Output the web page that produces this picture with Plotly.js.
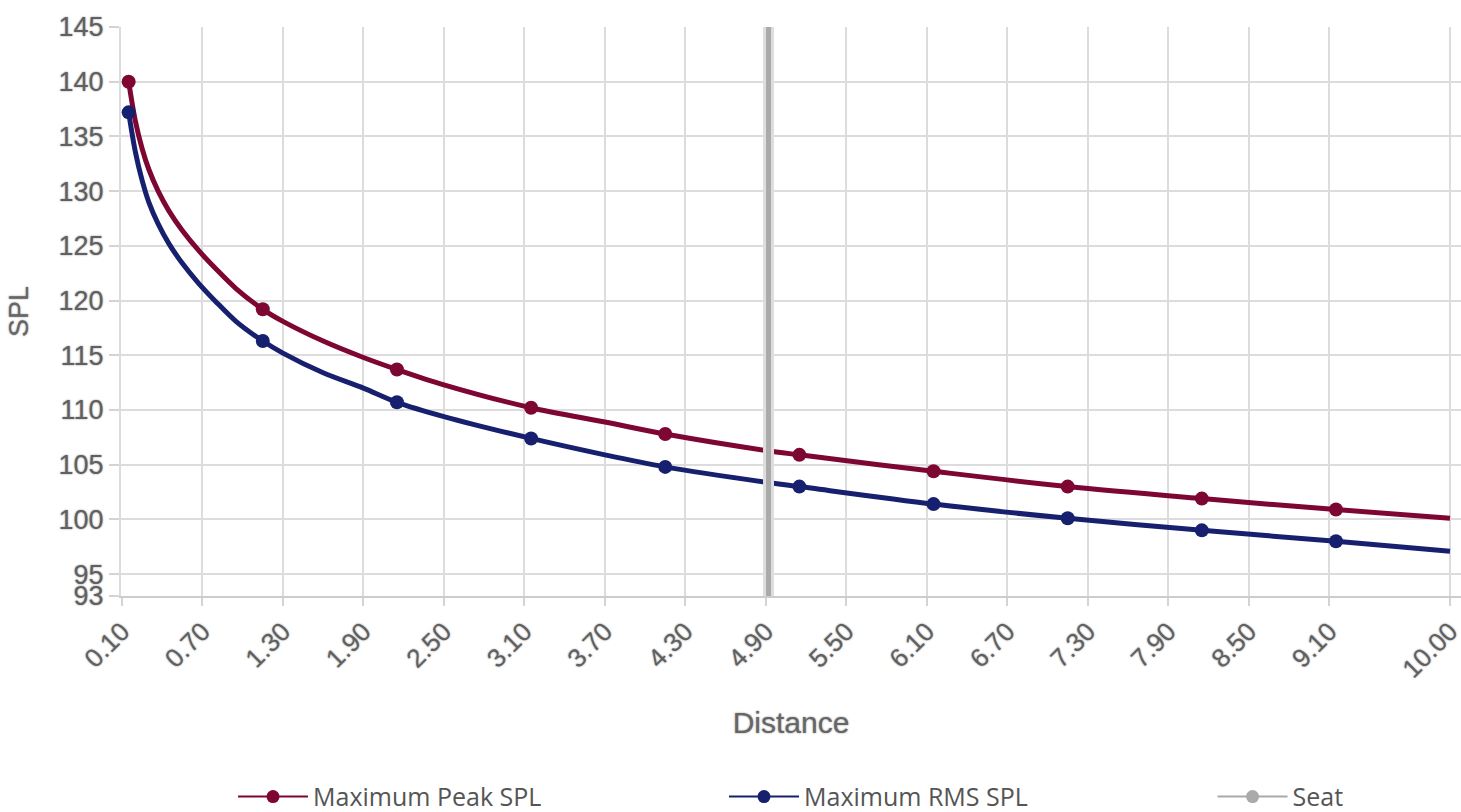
<!DOCTYPE html>
<html>
<head>
<meta charset="utf-8">
<script src="https://cdn.plot.ly/plotly-3.0.1.min.js"></script>
<style>html,body{margin:0;padding:0;background:#fff;}#chart{width:1461px;height:812px;}</style>
</head>
<body>
<div id="chart"></div>
<script>
// Data
const distance = [0.15, 0.20, 0.25, 0.30, 0.37, 0.45, 0.55, 0.67, 0.80, 0.95, 1.15, 1.30, 1.60, 1.90, 2.15, 2.50, 3.15, 3.70, 4.15, 4.90, 5.15, 6.15, 7.15, 8.15, 9.15, 10.0];
const peakSPL = [140.0, 136.4, 133.9, 132.0, 130.0, 128.2, 126.4, 124.6, 122.9, 121.1, 119.2, 118.1, 116.3, 114.8, 113.7, 112.3, 110.2, 108.9, 107.8, 106.3, 105.9, 104.4, 103.0, 101.9, 100.9, 100.1];
const rmsSPL  = [137.2, 133.6, 131.0, 129.0, 127.0, 125.2, 123.4, 121.6, 119.9, 118.1, 116.3, 115.2, 113.4, 112.0, 110.7, 109.4, 107.4, 105.9, 104.8, 103.4, 103.0, 101.4, 100.1, 99.0, 98.0, 97.1];
const markerDistances = [0.15, 1.15, 2.15, 3.15, 4.15, 5.15, 6.15, 7.15, 8.15, 9.15];
const seatDistance = 4.92;
const seatRange = [93, 145];
const xTickVals = [0.1, 0.7, 1.3, 1.9, 2.5, 3.1, 3.7, 4.3, 4.9, 5.5, 6.1, 6.7, 7.3, 7.9, 8.5, 9.1, 10.0];
const xTickText = ["0.10", "0.70", "1.30", "1.90", "2.50", "3.10", "3.70", "4.30", "4.90", "5.50", "6.10", "6.70", "7.30", "7.90", "8.50", "9.10", "10.00"];
const yTickVals = [93, 95, 100, 105, 110, 115, 120, 125, 130, 135, 140, 145];

const RED = '#7d0633', BLUE = '#17206e', GREY = '#aaaaaa';
const markerSizes = distance.map(d => markerDistances.some(m => Math.abs(m - d) < 1e-9) ? 14 : 0);
const shadow = '0px 0px 2px rgba(0,0,0,0.45)';
const tickFamily = 'Liberation Sans, Arial, sans-serif';

const traces = [
  {
    x: distance, y: peakSPL, name: 'Maximum Peak SPL', type: 'scatter', mode: 'lines+markers', showlegend: false,
    line: {color: RED, width: 5, shape: 'spline', smoothing: 0.9},
    marker: {color: RED, size: markerSizes, opacity: 1, line: {width: 0}}
  },
  {
    x: distance, y: rmsSPL, name: 'Maximum RMS SPL', type: 'scatter', mode: 'lines+markers', showlegend: false,
    line: {color: BLUE, width: 5, shape: 'spline', smoothing: 0.9},
    marker: {color: BLUE, size: markerSizes, opacity: 1, line: {width: 0}}
  },
  {
    x: [seatDistance, seatDistance], y: seatRange, type: 'scatter', mode: 'lines',
    line: {color: '#dedede', width: 11}, showlegend: false, hoverinfo: 'skip'
  },
  {
    x: [seatDistance, seatDistance], y: seatRange, name: 'Seat', type: 'scatter', mode: 'lines', showlegend: false,
    line: {color: GREY, width: 5}
  },
  // legend entries
  {x: [null], y: [null], name: 'Maximum Peak SPL', type: 'scatter', mode: 'lines+markers',
   line: {color: RED, width: 2}, marker: {color: RED, size: 13}, legend: 'legend'},
  {x: [null], y: [null], name: 'Maximum RMS SPL', type: 'scatter', mode: 'lines+markers',
   line: {color: BLUE, width: 2}, marker: {color: BLUE, size: 13}, legend: 'legend2'},
  {x: [null], y: [null], name: 'Seat', type: 'scatter', mode: 'lines+markers',
   line: {color: GREY, width: 2}, marker: {color: GREY, size: 13}, legend: 'legend3'}
];

const legendBase = {
  orientation: 'h', xanchor: 'left', y: -0.353, yanchor: 'middle', itemwidth: 70,
  font: {family: 'Open Sans, Noto Sans, sans-serif', size: 25, color: '#555555'},
  bgcolor: 'rgba(0,0,0,0)'
};

const layout = {
  width: 1461, height: 812,
  margin: {l: 121, r: 0, t: 27, b: 216, autoexpand: false},
  paper_bgcolor: '#ffffff', plot_bgcolor: '#ffffff',
  showlegend: true,
  xaxis: {
    range: [0.093, 10.082], tickmode: 'array', tickvals: xTickVals, ticktext: xTickText,
    tickangle: -45, ticks: 'outside', ticklen: 8, tickcolor: '#d4d4d4', tickwidth: 2,
    ticklabeloverflow: 'allow',
    showgrid: true, gridcolor: '#dcdcdc', gridwidth: 2, zeroline: false,
    showline: true, linecolor: '#cccccc', linewidth: 2,
    tickfont: {family: tickFamily, size: 26, color: '#606060', shadow: shadow},
    title: {text: 'Distance', standoff: 29, font: {family: tickFamily, size: 30, color: '#666666', shadow: shadow}}
  },
  yaxis: {
    range: [93, 145], tickmode: 'array', tickvals: yTickVals,
    ticks: 'outside', ticklen: 10, tickcolor: '#d4d4d4', tickwidth: 2,
    showgrid: true, gridcolor: '#dcdcdc', gridwidth: 2, zeroline: false,
    showline: true, linecolor: '#dcdcdc', linewidth: 2,
    tickfont: {family: tickFamily, size: 27, color: '#606060', shadow: shadow},
    title: {text: 'SPL', standoff: 22, font: {family: tickFamily, size: 27, color: '#666666', shadow: shadow}}
  },
  legend: Object.assign({}, legendBase, {x: 0.0836}),
  legend2: Object.assign({}, legendBase, {x: 0.450}),
  legend3: Object.assign({}, legendBase, {x: 0.8146})
};

Plotly.newPlot('chart', traces, layout, {displayModeBar: false, staticPlot: true});
</script>
</body>
</html>
